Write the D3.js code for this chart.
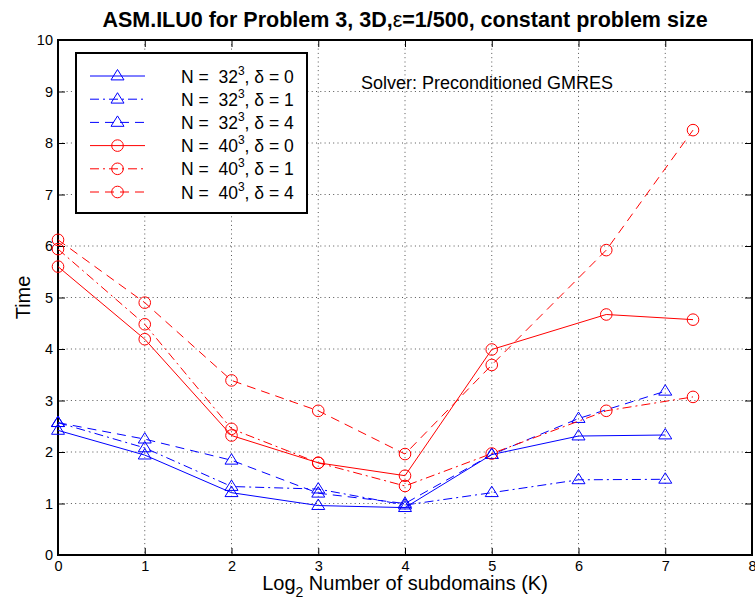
<!DOCTYPE html>
<html>
<head>
<meta charset="utf-8">
<script src="https://cdn.jsdelivr.net/npm/d3@7"></script>
<style>
  html, body { margin: 0; padding: 0; background: #fff; }
  text { font-family: "Liberation Sans", Arial, Helvetica, sans-serif; }
</style>
</head>
<body>
<svg id="chart" width="755" height="602"></svg>
<script>
// Subdomain counts (log2 K) for each problem size
const xN32 = [0, 1, 2, 3, 4, 5, 6, 7];
const xN40 = [0, 1, 2, 3, 4, 5, 6.32, 7.32];

// Solve times
const n32d0 = [2.42, 1.94, 1.21, 0.96, 0.92, 1.95, 2.31, 2.33];
const n32d1 = [2.57, 2.08, 1.33, 1.28, 0.97, 1.21, 1.46, 1.47];
const n32d4 = [2.57, 2.25, 1.84, 1.20, 1.00, 1.95, 2.65, 3.18];
const n40d0 = [5.60, 4.19, 2.32, 1.79, 1.54, 3.99, 4.67, 4.57];
const n40d1 = [5.94, 4.48, 2.45, 1.79, 1.34, 1.97, 2.80, 3.07];
const n40d4 = [6.12, 4.90, 3.39, 2.80, 1.96, 3.69, 5.92, 8.25];

const xTicks = [0, 1, 2, 3, 4, 5, 6, 7, 8];
const yTicks = [0, 1, 2, 3, 4, 5, 6, 7, 8, 9, 10];

const seriesList = [
  { n: "32", d: "0", xs: xN32, ys: n32d0, color: "#0000ff", dash: null, marker: "tri" },
  { n: "32", d: "1", xs: xN32, ys: n32d1, color: "#0000ff", dash: "9,4,2,4", marker: "tri" },
  { n: "32", d: "4", xs: xN32, ys: n32d4, color: "#0000ff", dash: "9,6", marker: "tri" },
  { n: "40", d: "0", xs: xN40, ys: n40d0, color: "#ff0000", dash: null, marker: "circ" },
  { n: "40", d: "1", xs: xN40, ys: n40d1, color: "#ff0000", dash: "9,4,2,4", marker: "circ" },
  { n: "40", d: "4", xs: xN40, ys: n40d4, color: "#ff0000", dash: "9,6", marker: "circ" }
];

const svg = d3.select("#chart");
const L = 58, R = 752, T = 40, B = 555;
const x = d3.scaleLinear().domain([0, 8]).range([L, R]);
const y = d3.scaleLinear().domain([0, 10]).range([B, T]);

// dotted grid
const grid = svg.append("g");
grid.selectAll("line.gx").data(xTicks.slice(1, -1)).join("line")
  .attr("x1", d => x(d)).attr("x2", d => x(d)).attr("y1", T).attr("y2", B)
  .attr("stroke", "#555").attr("stroke-width", 1).attr("stroke-dasharray", "1,3.3");
grid.selectAll("line.gy").data(yTicks.slice(1, -1)).join("line")
  .attr("y1", d => y(d)).attr("y2", d => y(d)).attr("x1", L).attr("x2", R)
  .attr("stroke", "#555").attr("stroke-width", 1).attr("stroke-dasharray", "1,3.3");

// axes with inward ticks on all four sides
const tk = 7;
const axB = svg.append("g").attr("transform", `translate(0,${B})`)
  .call(d3.axisBottom(x).tickValues(xTicks).tickSize(-tk).tickPadding(6).tickFormat(d3.format("d")));
const axT = svg.append("g").attr("transform", `translate(0,${T})`)
  .call(d3.axisTop(x).tickValues(xTicks).tickSize(-tk).tickFormat(""));
const axL = svg.append("g").attr("transform", `translate(${L},0)`)
  .call(d3.axisLeft(y).tickValues(yTicks).tickSize(-tk).tickPadding(5).tickFormat(d3.format("d")));
const axR = svg.append("g").attr("transform", `translate(${R},0)`)
  .call(d3.axisRight(y).tickValues(yTicks).tickSize(-tk).tickFormat(""));
[axB, axT, axL, axR].forEach(a => {
  a.select(".domain").remove();
  a.selectAll(".tick line").attr("stroke", "#000").attr("stroke-width", 1);
  a.selectAll(".tick text").attr("font-size", 14.5).attr("fill", "#000")
    .style("font-family", "'Liberation Sans', Arial, sans-serif");
});

svg.append("rect").attr("x", L).attr("y", T).attr("width", R - L).attr("height", B - T)
  .attr("fill", "none").attr("stroke", "#000").attr("stroke-width", 2);

// markers
function drawMarker(g, kind, cx, cy, color) {
  if (kind === "tri") {
    const s = 6.5;
    g.append("path")
      .attr("d", `M${cx},${cy - s} L${cx + s},${cy + s * 0.6} L${cx - s},${cy + s * 0.6} Z`)
      .attr("fill", "none").attr("stroke", color).attr("stroke-width", 1);
  } else {
    g.append("circle").attr("cx", cx).attr("cy", cy).attr("r", 5.8)
      .attr("fill", "none").attr("stroke", color).attr("stroke-width", 1);
  }
}

const line = d3.line().x(d => x(d[0])).y(d => y(d[1]));
const plot = svg.append("g");
seriesList.forEach(s => {
  const pts = s.xs.map((v, i) => [v, s.ys[i]]);
  plot.append("path").datum(pts).attr("d", line)
    .attr("fill", "none").attr("stroke", s.color).attr("stroke-width", 1)
    .attr("stroke-dasharray", s.dash);
  pts.forEach(p => drawMarker(plot, s.marker, x(p[0]), y(p[1]), s.color));
});

// legend
const lg = svg.append("g");
lg.append("rect").attr("x", 76).attr("y", 53).attr("width", 231).attr("height", 160)
  .attr("fill", "#fff").attr("stroke", "#000").attr("stroke-width", 2);
seriesList.forEach((s, i) => {
  const ly = 76 + i * 23.2;
  lg.append("line").attr("x1", 90).attr("x2", 145).attr("y1", ly).attr("y2", ly)
    .attr("stroke", s.color).attr("stroke-width", 1).attr("stroke-dasharray", s.dash);
  drawMarker(lg, s.marker, 117.5, ly, s.color);
  const t = lg.append("text").attr("x", 181).attr("y", ly + 6.5).attr("font-size", 17.5).attr("fill", "#000")
    .attr("xml:space", "preserve");
  t.append("tspan").text(`N =  ${s.n}`);
  t.append("tspan").attr("dy", -8).attr("font-size", 12).text("3");
  t.append("tspan").attr("dy", 8).text(`, δ = ${s.d}`);
});

svg.append("text").attr("x", 361).attr("y", 88.5).attr("font-size", 18).attr("fill", "#000")
  .text("Solver: Preconditioned GMRES");

// title and axis labels
const title = svg.append("text").attr("x", (L + R) / 2).attr("y", 26.5).attr("text-anchor", "middle")
  .attr("font-size", 21.5).attr("font-weight", "bold").attr("fill", "#000");
title.append("tspan").text("ASM.ILU0 for Problem 3, 3D,");
title.append("tspan").attr("font-weight", "normal").text("ε");
title.append("tspan").text("=1/500, constant problem size");

const xl = svg.append("text").attr("x", (L + R) / 2).attr("y", 590).attr("text-anchor", "middle")
  .attr("font-size", 20).attr("fill", "#000");
xl.append("tspan").text("Log");
xl.append("tspan").attr("dy", 7).attr("font-size", 14).text("2");
xl.append("tspan").attr("dy", -7).text(" Number of subdomains (K)");

svg.append("text").attr("transform", `translate(30,${(T + B) / 2}) rotate(-90)`)
  .attr("text-anchor", "middle").attr("font-size", 20).attr("fill", "#000").text("Time");
</script>
</body>
</html>
